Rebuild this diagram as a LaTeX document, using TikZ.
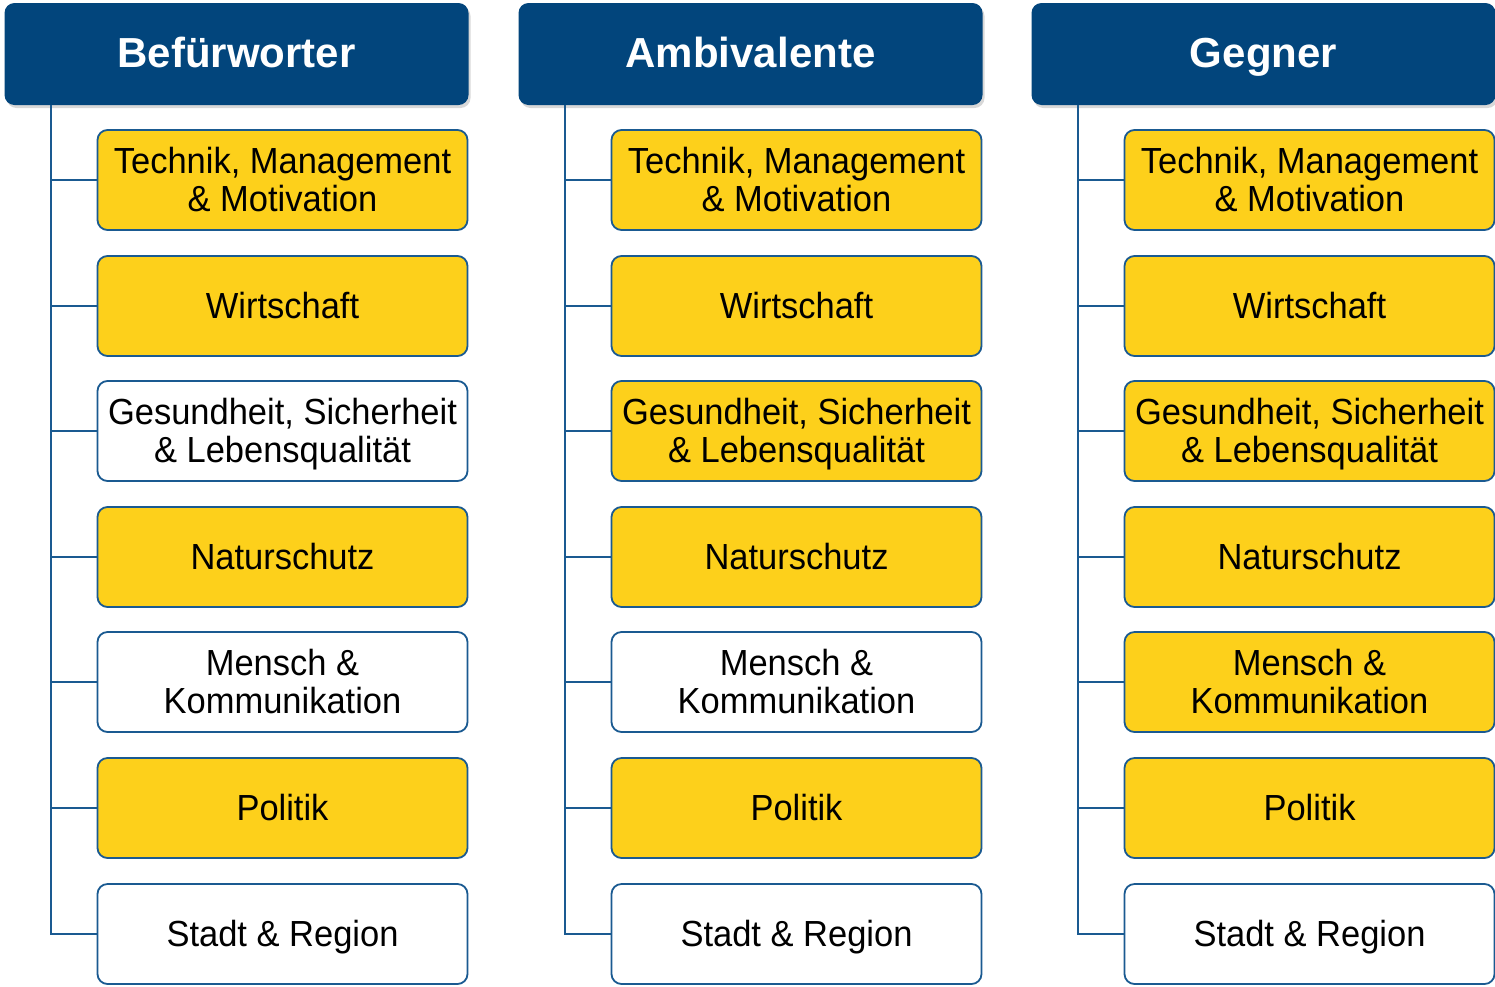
\documentclass[tikz,border=0pt]{standalone}
\usepackage{fontspec}
\setmainfont{Liberation Sans}
\newfontfamily\itemfont[FakeStretch=0.95]{Liberation Sans}
\usetikzlibrary{shadows}
\definecolor{hdr}{HTML}{02457C}
\definecolor{edgeblue}{HTML}{1A5A91}
\definecolor{yel}{HTML}{FDD01B}
\tikzset{
  header/.style={fill=hdr, rounded corners=10pt, minimum width=464pt, minimum height=102pt,
    inner sep=0pt, text=white, font=\fontsize{42}{46}\selectfont\bfseries,
    text height=27pt, text depth=0pt,
    drop shadow={shadow xshift=2pt, shadow yshift=-3pt, opacity=0.3}},
  itembox/.style={draw=edgeblue, line width=1.8pt, rounded corners=10pt, minimum width=370pt,
    minimum height=100pt, inner sep=0pt, align=center,
    font=\itemfont\fontsize{36.3}{38.4}\selectfont, text height=25pt, text depth=0pt},
  twolines/.style={text height=63.4pt, text depth=0pt},
  yb/.style={itembox, fill=yel},
  wb/.style={itembox, fill=white},
  conn/.style={draw=edgeblue, line width=2.4pt}
}
\begin{document}
\begin{tikzpicture}[x=1pt,y=-1pt]
\useasboundingbox[fill=white] (0,0) rectangle (1495,986);
\foreach \col/\dx/\title/\sA/\sB/\sC/\sD/\sE/\sF/\sG in
  {a/0/Befürworter/yb/yb/wb/yb/wb/yb/wb,
   b/514/Ambivalente/yb/yb/yb/yb/wb/yb/wb,
   c/1027/Gegner/yb/yb/yb/yb/yb/yb/wb}{
  \node[header] (\col h) at (236.5+\dx,54) {\title};
  \coordinate (\col v) at (51+\dx,0);
  \node[\sA, twolines] (\col1) at (282.5+\dx,180) {Technik, Management\\\& Motivation};
  \node[\sB] (\col2) at (282.5+\dx,306) {Wirtschaft};
  \node[\sC, twolines] (\col3) at (282.5+\dx,431) {Gesundheit, Sicherheit\\\& Lebensqualität};
  \node[\sD] (\col4) at (282.5+\dx,557) {Naturschutz};
  \node[\sE, twolines] (\col5) at (282.5+\dx,682) {Mensch \&\\Kommunikation};
  \node[\sF] (\col6) at (282.5+\dx,808) {Politik};
  \node[\sG] (\col7) at (282.5+\dx,934) {Stadt \& Region};
  \draw[conn] (\col h.south -| \col v) |- (\col7.west);
  \foreach \k in {1,...,6}{
    \draw[conn] (\col\k.west -| \col v) -- (\col\k.west);
  }
}
\end{tikzpicture}
\end{document}
